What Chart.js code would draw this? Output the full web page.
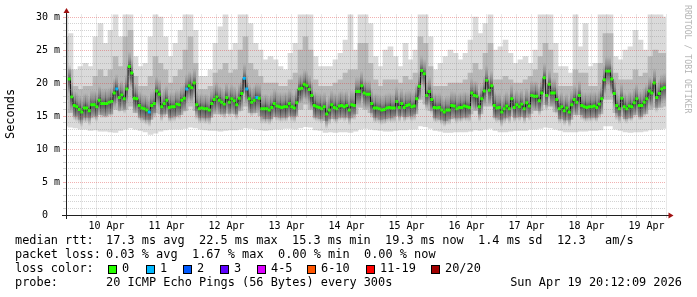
<!DOCTYPE html>
<html>
<head>
<meta charset="utf-8">
<script src="https://cdn.jsdelivr.net/npm/chart.js@4.4.1/dist/chart.umd.min.js"></script>
<style>
body { margin: 0; background: #fff; }
#wrap { position: relative; width: 697px; height: 297px; overflow: hidden; background: #fff; }
#wrap span { position: absolute; font-family: 'DejaVu Sans Mono', monospace; font-size: 11.9px; line-height: 1; white-space: pre; color: #000; }
#wrap span.sw { width: 7px; height: 7px; border: 1px solid #000; top: 265px; }
#wrap span.vt { transform-origin: 0 0; }
</style>
</head>
<body>
<div id="wrap">
<canvas id="rttChart" width="697" height="297"></canvas>
<span class="vt" style="left:5px;top:139px;transform:rotate(-90deg)">Seconds</span>
<span class="vt" style="left:692px;top:5px;transform:rotate(90deg);font-size:8.2px;color:#b4b4b4">RRDTOOL / TOBI OETIKER</span>

<span style="left:15px;top:235px">median rtt:</span>
<span style="left:106px;top:235px">17.3 ms avg</span>
<span style="left:199px;top:235px">22.5 ms max</span>
<span style="left:292px;top:235px">15.3 ms min</span>
<span style="left:385px;top:235px">19.3 ms now</span>
<span style="left:478px;top:235px">1.4 ms sd</span>
<span style="left:557px;top:235px">12.3</span>
<span style="left:605px;top:235px">am/s</span>

<span style="left:15px;top:249px">packet loss:</span>
<span style="left:106px;top:249px">0.03 % avg</span>
<span style="left:192px;top:249px">1.67 % max</span>
<span style="left:278px;top:249px">0.00 % min</span>
<span style="left:364px;top:249px">0.00 % now</span>

<span style="left:15px;top:263px">loss color:</span>
<span id="lossLegend"></span>

<span style="left:15px;top:277px">probe:</span>
<span style="left:106px;top:277px">20 ICMP Echo Pings (56 Bytes) every 300s</span>
<span style="right:15px;top:277px">Sun Apr 19 20:12:09 2026</span>
</div>

<script>
// hours are counted from 9 Apr 00:00; the graph spans 9 Apr 20:12 .. 19 Apr 20:12
const startHour = 20.2;
const endHour = 260.2;

// smoke, one column per 2 hours (first column centred on hour 20), values in ms
const binStart = 20;
const binStep = 2;
const maxRtt = [
  31, 27.5, 22, 22.5, 23, 22.5, 27, 29, 26, 28,
  30.5, 27, 31, 31, 24, 22.5, 23, 27, 31, 30,
  27, 24, 26, 28, 31, 31, 28, 21, 21, 22,
  26, 28.5, 30.5, 25, 26, 31, 31, 29, 26, 25,
  23.5, 24, 23.5, 22.5, 22, 24.5, 26, 31, 31, 31,
  24, 22.5, 22.5, 22.5, 23.5, 24.5, 26.5, 30.5, 25, 31,
  31, 29, 24, 22.5, 25, 25.5, 24, 22.5, 26, 23.5,
  25, 31, 31, 27, 22, 23, 24, 25, 24.5, 23.5,
  24.5, 26.5, 30, 27.5, 29, 31, 25, 25.5, 26.5, 24.5,
  23, 23.5, 24, 23, 25, 31, 31, 31, 26, 22.5,
  22.5, 21.5, 30.5, 25.5, 29, 22.5, 23, 31, 31, 31,
  24, 23.5, 25, 25.5, 28, 26.5, 25, 31, 31, 30.5,
  30
];
const hiRtt = [
  27, 22, 19.5, 19, 19.5, 19.5, 21, 22, 21, 22,
  24, 22.5, 27, 28, 21, 19.5, 19.5, 21, 24, 23,
  22, 20, 21, 22, 25, 27, 23, 19, 19, 19.5,
  21.5, 22, 23, 21.5, 22, 25, 27, 23, 22, 21,
  20, 20, 20, 19.5, 19.5, 20.5, 21.5, 25, 27, 25,
  20.5, 19.5, 19.5, 19.5, 20, 20.5, 21.5, 22, 22, 26,
  26, 23, 20.5, 19.5, 20.5, 20.5, 20.5, 20, 21, 20.5,
  21.5, 27, 26, 22.5, 19.5, 19.5, 19.5, 20, 20, 20,
  20.5, 21.5, 23, 22, 24.5, 26, 20.5, 20.5, 21, 20.5,
  20, 20, 20.5, 21, 22, 24, 26, 25, 21.5, 19.5,
  19.5, 19.5, 22, 21.5, 21.5, 19.5, 19.5, 23, 27.5, 27.5,
  21.5, 20.5, 20.5, 20.5, 22, 21, 21.5, 24, 25, 24.5,
  24.5
];
const loRtt = [
  17.5, 15.5, 15, 14.5, 14.8, 14.8, 15, 15.2, 15, 15.3,
  16, 15.8, 16, 16.5, 15.5, 14.8, 14.5, 14.5, 15.5, 15.3,
  15.3, 14.8, 15, 15.2, 15.8, 16.5, 15.8, 14.8, 14.7, 14.8,
  15.3, 15.3, 15.4, 15.4, 15.3, 15.8, 16.5, 15.5, 15.5, 15,
  14.6, 14.6, 14.9, 14.8, 14.8, 15, 15, 16, 16.8, 16,
  14.8, 14.6, 14.3, 14.6, 14.6, 14.8, 14.8, 14.7, 15.3, 16.3,
  16, 15.5, 14.8, 14.5, 14.6, 14.7, 15, 15, 14.9, 15,
  15.3, 17.5, 16.8, 15.8, 14.7, 14.5, 14.3, 14.6, 14.7, 14.7,
  14.8, 15.3, 15.8, 15.3, 16.5, 16.5, 14.8, 14.5, 14.7, 15,
  14.8, 14.9, 14.8, 15.4, 15.8, 15.8, 16.7, 16.5, 15.6, 14.6,
  14.4, 14.5, 15.2, 15.2, 14.7, 14.8, 14.8, 15.3, 17.5, 17.5,
  15.5, 15, 14.6, 14.7, 15.2, 14.9, 15.3, 16, 16.3, 16.3,
  16.5
];
const minRtt = [
  13.5, 13.3, 13.2, 13, 13, 12.8, 12.9, 12.7, 12.7, 12.6,
  12.5, 12.8, 13, 13.2, 13, 12.8, 12.6, 12.2, 12.4, 12.7,
  12.9, 13, 13, 13, 13.1, 13.3, 13.2, 13, 12.9, 12.8,
  12.8, 12.7, 12.8, 12.9, 12.9, 13, 13.2, 13.1, 13, 12.9,
  12.8, 12.9, 13, 13, 13.1, 13.1, 13, 13.2, 13.4, 13.3,
  12.9, 12.8, 12.5, 12.6, 12.5, 12.6, 12.6, 12.5, 12.7, 13,
  13.1, 13, 12.9, 12.8, 12.7, 12.7, 12.8, 12.9, 12.9, 13,
  13, 13.5, 13.4, 13.1, 12.8, 12.7, 12.5, 12.5, 12.6, 12.6,
  12.6, 12.7, 12.9, 12.8, 13, 13.1, 12.8, 12.6, 12.6, 12.7,
  12.8, 12.8, 12.8, 13, 13, 13.1, 13.3, 13.2, 13, 12.8,
  12.6, 12.6, 12.6, 12.7, 12.7, 12.8, 12.8, 12.9, 13.5, 13.5,
  13, 12.8, 12.6, 12.5, 12.6, 12.6, 12.7, 12.9, 13, 13,
  13.1
];

// hourly median rtt in ms (first sample at hour 21.5)
const medianStart = 21.5;
const medianRtt = [
  20.6, 17.9, 16.6, 16.4, 16.0, 15.6, 16.2, 16.2, 15.8, 16.7,
  16.7, 16.4, 17.4, 16.9, 16.9, 16.9, 17.1, 17.2, 18.5, 19.1,
  17.8, 18.2, 17.6, 19.1, 22.5, 21.5, 17.7, 17.6, 16.6, 16.2,
  16.1, 15.9, 15.6, 16.6, 16.9, 18.8, 18.3, 16.4, 16.9, 17.4,
  16.3, 16.4, 16.4, 16.8, 16.7, 17.4, 17.7, 19.1, 19.6, 19.3,
  20.0, 16.7, 16.1, 16.2, 16.1, 16.1, 15.9, 16.9, 17.5, 17.9,
  17.4, 17.1, 16.8, 17.8, 17.1, 17.6, 17.3, 16.7, 17.7, 18.4,
  20.7, 19.1, 17.6, 17.1, 17.4, 17.8, 17.7, 16.1, 16.1, 16.1,
  15.9, 16.3, 16.9, 16.5, 16.4, 16.3, 16.4, 16.4, 16.9, 16.4,
  16.2, 17.0, 19.1, 19.2, 19.8, 19.6, 19.0, 18.1, 16.6, 16.4,
  16.3, 16.1, 16.4, 15.3, 15.9, 16.7, 16.3, 16.1, 16.5, 16.6,
  16.4, 16.6, 15.9, 16.7, 16.6, 18.7, 18.7, 19.6, 18.5, 18.3,
  18.3, 16.9, 16.2, 16.2, 16.1, 15.9, 16.0, 16.2, 16.3, 16.2,
  16.2, 17.2, 16.3, 16.9, 16.3, 16.6, 16.7, 16.4, 16.5, 17.6,
  19.5, 21.9, 21.4, 18.1, 18.7, 17.5, 16.3, 16.2, 16.3, 15.9,
  15.6, 15.9, 15.9, 16.6, 16.5, 16.1, 16.3, 16.3, 16.5, 16.4,
  16.3, 18.5, 18.1, 18.0, 16.4, 17.6, 18.8, 20.4, 18.9, 19.6,
  16.6, 16.2, 16.3, 15.6, 16.1, 16.5, 16.1, 17.6, 16.3, 16.7,
  16.4, 16.8, 16.1, 17.0, 16.5, 18.1, 18.0, 18.0, 17.3, 18.5,
  20.8, 18.1, 19.8, 18.5, 18.5, 17.5, 16.1, 16.4, 15.8, 16.2,
  15.6, 16.7, 17.5, 17.1, 18.1, 16.6, 16.4, 16.3, 16.4, 16.4,
  16.5, 16.3, 16.8, 17.6, 20.5, 21.8, 21.8, 20.6, 18.4, 16.6,
  16.1, 17.7, 16.4, 16.1, 16.5, 16.4, 17.0, 17.6, 16.6, 16.6,
  17.1, 17.6, 18.8, 18.5, 20.0, 17.8, 18.4, 19.1, 19.3
];
// samples where some pings were lost (index into medianRtt) and how many
const lossIndex = [19, 32, 47, 70, 71, 75];
const lossPings = [1, 1, 1, 1, 1, 1];

const lossLabels = ['0', '1', '2', '3', '4-5', '6-10', '11-19', '20/20'];
const lossColors = ['#26ff00', '#00b8ff', '#0059ff', '#5e00ff', '#dd00ff', '#ff5500', '#ff0000', '#a10000'];
const dayLabels = ['10 Apr', '11 Apr', '12 Apr', '13 Apr', '14 Apr', '15 Apr', '16 Apr', '17 Apr', '18 Apr', '19 Apr'];
const firstNoon = 36; // 10 Apr 12:00

// loss legend boxes
const swatchX = [108, 146, 183, 220, 257, 307, 366, 431];
const legendHost = document.getElementById('lossLegend');
lossLabels.forEach((lbl, i) => {
    const box = document.createElement('span');
    box.className = 'sw';
    box.style.left = swatchX[i] + 'px';
    box.style.background = lossColors[i];
    legendHost.parentNode.appendChild(box);
    const txt = document.createElement('span');
    txt.textContent = lbl;
    txt.style.left = (swatchX[i] + 14) + 'px';
    txt.style.top = '263px';
    legendHost.parentNode.appendChild(txt);
});

function lossColorIndex(n) {
    if (n <= 3) return n;
    if (n <= 5) return 4;
    if (n <= 10) return 5;
    if (n <= 19) return 6;
    return 7;
}
const pointColors = medianRtt.map((v, j) => {
    const k = lossIndex.indexOf(j);
    return lossColors[k < 0 ? 0 : lossColorIndex(lossPings[k])];
});

// dark core of the smoke around the median
function makeCore() {
    const c = document.createElement('canvas');
    c.width = 3;
    c.height = 30;
    const g = c.getContext('2d');
    const grad = g.createLinearGradient(0, 0, 0, 30);
    grad.addColorStop(0, 'rgba(50,50,50,0)');
    grad.addColorStop(0.3, 'rgba(50,50,50,0.3)');
    grad.addColorStop(0.5, 'rgba(40,40,40,0.7)');
    grad.addColorStop(0.75, 'rgba(50,50,50,0.4)');
    grad.addColorStop(1, 'rgba(50,50,50,0)');
    g.fillStyle = grad;
    g.fillRect(0, 0, 3, 30);
    return c;
}

const outerSmoke = maxRtt.map((v, i) => ({ x: binStart + binStep * i, y: [minRtt[i], v] }));
const innerSmoke = hiRtt.map((v, i) => ({ x: binStart + binStep * i, y: [loRtt[i], v] }));
const medianPoints = medianRtt.map((v, j) => ({ x: medianStart + j, y: v }));

const minorGrid = 'rgba(140,140,140,0.38)';
const majorGrid = 'rgba(220,60,60,0.4)';
const monoFont = { family: 'DejaVu Sans Mono', size: 10 };

// axis lines with the little rrdtool arrows, and the day labels under the noon lines
const axisArrows = {
    id: 'axisArrows',
    afterDraw(chart) {
        const { ctx, chartArea: a } = chart;
        const xs = chart.scales.x;
        ctx.save();
        ctx.strokeStyle = '#202020';
        ctx.lineWidth = 1;
        ctx.beginPath();
        ctx.moveTo(62, a.bottom + 0.5);
        ctx.lineTo(671, a.bottom + 0.5);
        ctx.moveTo(a.left + 0.5, a.bottom + 4);
        ctx.lineTo(a.left + 0.5, 11);
        ctx.stroke();
        ctx.fillStyle = '#a01010';
        ctx.beginPath();
        ctx.moveTo(668.5, a.bottom - 2.5);
        ctx.lineTo(673.5, a.bottom + 0.5);
        ctx.lineTo(668.5, a.bottom + 3.5);
        ctx.closePath();
        ctx.fill();
        ctx.beginPath();
        ctx.moveTo(a.left - 2.5, 13);
        ctx.lineTo(a.left + 0.5, 8);
        ctx.lineTo(a.left + 3.5, 13);
        ctx.closePath();
        ctx.fill();
        ctx.fillStyle = '#000';
        ctx.font = '10px "DejaVu Sans Mono"';
        ctx.textAlign = 'center';
        ctx.textBaseline = 'alphabetic';
        dayLabels.forEach((lbl, d) => {
            ctx.fillText(lbl, xs.getPixelForValue(firstNoon + 24 * d) + 1, a.bottom + 13.5);
        });
        ctx.restore();
    }
};

const ctx = document.getElementById('rttChart').getContext('2d');
const rttChart = new Chart(ctx, {
    type: 'bar',
    data: {
        datasets: [
            {
                data: outerSmoke,
                backgroundColor: '#dadada',
                grouped: false,
                barPercentage: 1,
                categoryPercentage: 1,
                borderWidth: 0,
                order: 4
            },
            {
                data: innerSmoke,
                backgroundColor: '#b8b8b8',
                grouped: false,
                barPercentage: 1,
                categoryPercentage: 1,
                borderWidth: 0,
                order: 3
            },
            {
                type: 'line',
                data: medianPoints,
                showLine: false,
                pointStyle: makeCore(),
                pointRadius: 1,
                order: 2
            },
            {
                type: 'line',
                data: medianPoints,
                stepped: 'middle',
                borderColor: '#1a1a1a',
                borderWidth: 1,
                pointStyle: 'rect',
                pointRadius: 2.1,
                pointBorderWidth: 0,
                pointBackgroundColor: pointColors,
                order: 1
            }
        ]
    },
    options: {
        responsive: false,
        animation: false,
        layout: { padding: { left: 0, top: 14.5, right: 31, bottom: 62 } },
        plugins: { legend: { display: false }, tooltip: { enabled: false } },
        scales: {
            x: {
                type: 'linear',
                min: startHour,
                max: endHour,
                offset: false,
                afterFit: s => { s.height = 20; },
                grid: {
                    offset: false,
                    z: 1,
                    tickLength: 3,
                    color: c => (c.tick && c.tick.value % 24 === 0) ? majorGrid : minorGrid
                },
                border: { display: false, dash: [1, 1] },
                ticks: {
                    display: false,
                    stepSize: 6,
                    autoSkip: false,
                    includeBounds: false,
                    maxRotation: 0
                }
            },
            y: {
                min: 0,
                max: 30.38,
                afterFit: s => { s.width = 66; },
                grid: {
                    z: 1,
                    tickLength: 3,
                    color: c => (c.tick && c.tick.value % 5 === 0) ? majorGrid : minorGrid
                },
                border: { display: false, dash: [1, 1] },
                ticks: {
                    stepSize: 1,
                    autoSkip: false,
                    includeBounds: false,
                    padding: 3,
                    color: '#000',
                    font: monoFont,
                    callback: v => (v % 5 === 0 ? (v === 0 ? '0  ' : v + ' m') : '')
                }
            }
        }
    },
    plugins: [axisArrows]
});
</script>
</body>
</html>
